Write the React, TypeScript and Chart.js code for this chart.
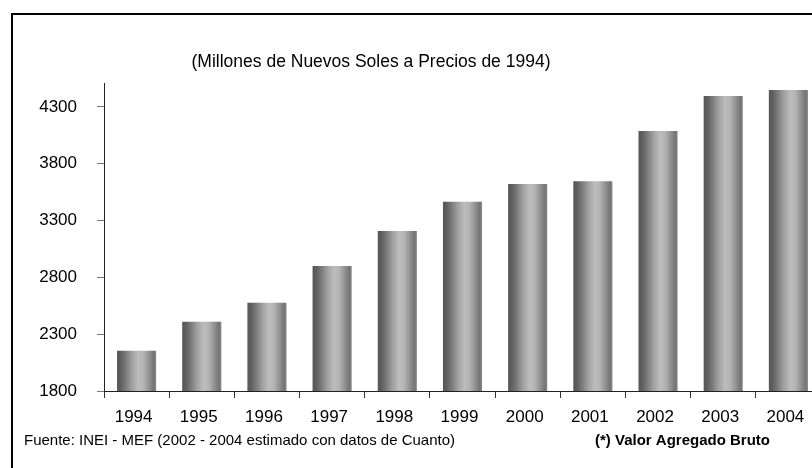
import React, { useEffect, useRef } from "react";
import { Chart, registerables } from "chart.js";

Chart.register(...registerables);

// ---- data ----
const categories = ["1994", "1995", "1996", "1997", "1998", "1999", "2000", "2001", "2002", "2003", "2004"];
const values = [2155, 2410, 2577, 2900, 3208, 3466, 3621, 3645, 4088, 4396, 4448];
const yTickValues = [1800, 2300, 2800, 3300, 3800, 4300];
const yMin = 1800;
const yMax = 4510;
const titleText = "(Millones de Nuevos Soles a Precios de 1994)";
const sourceText = "Fuente: INEI - MEF (2002 - 2004 estimado con datos de Cuanto)";
const noteText = "(*) Valor Agregado Bruto";

// ---- layout ----
const CW = 840;
const CH = 468;
const FONT = '"Liberation Sans", Arial, sans-serif';
const BAR_PCT = 0.6;

function barFill(ctx: any) {
  const chart = ctx.chart;
  const xs = chart.scales && chart.scales.x;
  if (!xs || ctx.dataIndex === undefined) return "#999999";
  const c = xs.getPixelForValue(ctx.dataIndex);
  const w = (xs.width / categories.length) * BAR_PCT;
  if (!isFinite(c) || !isFinite(w) || w <= 0) return "#999999";
  const g = chart.ctx.createLinearGradient(c - w / 2, 0, c + w / 2, 0);
  g.addColorStop(0, "#555555");
  g.addColorStop(0.1, "#606060");
  g.addColorStop(0.22, "#7a7a7a");
  g.addColorStop(0.38, "#a0a0a0");
  g.addColorStop(0.55, "#bdbdbd");
  g.addColorStop(0.68, "#b3b3b3");
  g.addColorStop(0.82, "#929292");
  g.addColorStop(0.94, "#747474");
  g.addColorStop(1, "#888888");
  return g;
}

const decorPlugin = {
  id: "decor",
  afterDraw(chart: any) {
    const ctx = chart.ctx;
    ctx.save();
    // outer frame
    ctx.strokeStyle = "#000";
    ctx.lineWidth = 2;
    ctx.strokeRect(12, 14, CW + 40, CH + 40);
    // title
    ctx.fillStyle = "#000";
    ctx.textBaseline = "middle";
    ctx.textAlign = "center";
    ctx.font = `17.5px ${FONT}`;
    ctx.fillText(titleText, 371, 62);
    // footer
    ctx.textAlign = "left";
    ctx.font = `15px ${FONT}`;
    ctx.fillText(sourceText, 24, 441);
    ctx.font = `bold 15px ${FONT}`;
    ctx.fillText(noteText, 595, 441);
    ctx.restore();
  },
};

export default function App() {
  const ref = useRef<HTMLCanvasElement | null>(null);

  useEffect(() => {
    if (!ref.current) return;
    const chart = new Chart(ref.current, {
      type: "bar",
      data: {
        labels: categories,
        datasets: [
          {
            data: values,
            backgroundColor: barFill as any,
            borderWidth: 0,
            categoryPercentage: 1,
            barPercentage: BAR_PCT,
          },
        ],
      },
      options: {
        animation: false,
        responsive: false,
        maintainAspectRatio: false,
        layout: { padding: { left: 0, top: 83, right: CW - 821, bottom: 0 } },
        plugins: {
          legend: { display: false },
          tooltip: { enabled: false },
          title: { display: false },
        },
        scales: {
          x: {
            offset: true,
            grid: {
              display: true,
              offset: true,
              drawOnChartArea: false,
              drawTicks: true,
              tickLength: 7,
              color: "#333",
            },
            border: { display: true, color: "#222", width: 1 },
            ticks: {
              color: "#000",
              font: { family: FONT, size: 17 },
              padding: 9,
              labelOffset: -3,
              maxRotation: 0,
              autoSkip: false,
            },
            afterFit: (s: any) => {
              s.height = CH - 391;
            },
          },
          y: {
            min: yMin,
            max: yMax,
            grid: {
              display: true,
              drawOnChartArea: false,
              drawTicks: true,
              tickLength: 7,
              color: "#777",
            },
            border: { display: true, color: "#222", width: 1 },
            ticks: {
              color: "#000",
              font: { family: FONT, size: 17 },
              padding: 20,
              callback: (v: any) => String(v),
            },
            afterBuildTicks: (s: any) => {
              s.ticks = yTickValues.map((v) => ({ value: v }));
            },
            afterFit: (s: any) => {
              s.width = 104;
            },
          },
        },
      },
      plugins: [decorPlugin],
    });
    return () => chart.destroy();
  }, []);

  return (
    <div
      style={{
        position: "fixed",
        left: 0,
        top: 0,
        width: 812,
        height: 468,
        overflow: "hidden",
        background: "#fff",
      }}
    >
      <canvas ref={ref} width={CW} height={CH} style={{ display: "block", width: CW, height: CH }} />
    </div>
  );
}
